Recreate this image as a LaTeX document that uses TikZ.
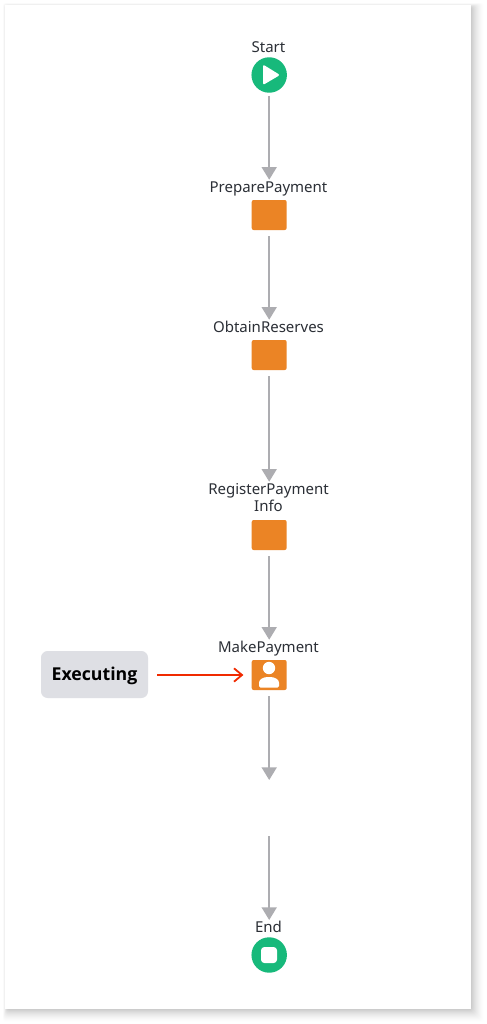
\documentclass[tikz,border=0pt]{standalone}
\usepackage{fontspec}
\setmainfont{Noto Sans}
\newfontfamily\tagfont{Open Sans}
\usetikzlibrary{arrows.meta}
\definecolor{flowgreen}{HTML}{17B97B}
\definecolor{floworange}{HTML}{EB8425}
\definecolor{flowgrey}{HTML}{ADADB1}
\definecolor{tagfill}{HTML}{DEDFE4}
\definecolor{flowred}{HTML}{F02A00}
\definecolor{labeltext}{HTML}{2B2F36}
\tikzset{
  x=0.75pt,y=-0.75pt,
  eventnode/.style={circle,fill=flowgreen,minimum size=26.6pt,inner sep=0pt},
  tasknode/.style={rectangle,rounded corners=1.5pt,fill=floworange,minimum width=26.25pt,minimum height=22.5pt,inner sep=0pt},
  steplabel/.style={text=labeltext,font=\fontsize{11.25pt}{12.8pt}\selectfont,align=center,inner sep=0pt},
  baselabel/.style={steplabel,anchor=base},
  flow/.style={draw=flowgrey,line width=1.2pt,-{Triangle[width=11.25pt,length=9.5pt,color=flowgrey]}},
  tagnode/.style={rectangle,rounded corners=5pt,fill=tagfill,minimum width=80.25pt,minimum height=35.25pt,inner sep=0pt},
  tagtext/.style={anchor=base,inner sep=0pt,font=\tagfont\fontsize{13.3pt}{16pt}\selectfont\bfseries},
  pointer/.style={draw=flowred,line width=1.35pt,-{Straight Barb[length=6pt,width=10pt,line width=1.35pt]}},
  glyph/.style={fill=white,draw=none}
}
\begin{document}
\begin{tikzpicture}
\useasboundingbox (0,0) rectangle (486,1024);
\fill[white] (0,0) rectangle (486,1024);
% card shadow
\foreach \k in {1,...,13}{
  \pgfmathsetmacro{\o}{0.028-0.0018*\k}
  \pgfmathsetmacro{\l}{7-\k/3}
  \fill[black,opacity=\o,rounded corners=2pt] (\l,\l) rectangle (471+\k,1009+\k);
}
\fill[white] (5,5) rectangle (471,1009);
% nodes
\node[eventnode] (start) at (269.2,75) {};
\node[tasknode] (prep) at (269.2,215) {};
\node[tasknode] (obtain) at (269.2,355) {};
\node[tasknode] (register) at (269.2,535) {};
\node[tasknode] (make) at (269.2,675) {};
\node[eventnode] (end) at (269.2,955) {};
\node[tagnode] (exec) at (94.5,674.5) {};
\node[tagtext] (exectext) at (94.5,680.5) {Executing};
\coordinate (gapa) at (269.2,780);
\coordinate (gapb) at (269.2,836);
% labels
\node[baselabel] (lstart) at (268.5,53) {Start};
\node[baselabel] (lprep) at (268.5,192) {PreparePayment};
\node[baselabel] (lobtain) at (268.5,332) {ObtainReserves};
\node[steplabel] (lregister) at (268.5,497.5) {RegisterPayment\\Info};
\node[baselabel] (lmake) at (268.5,652) {MakePayment};
\node[baselabel] (lend) at (268.5,932) {End};
% glyphs
\fill[glyph,rounded corners=1.5pt] (263,64.5) -- (280,75) -- (263,85) -- cycle;
\fill[glyph,rounded corners=2.5pt] (261,947) rectangle (277,963);
\fill[glyph] (269,668) circle[radius=6.2];
\fill[glyph,rounded corners=1pt] (259,687.5) -- (259,684) .. controls (259,679) and (264,677) .. (269,677) .. controls (274,677) and (279,679) .. (279,684) -- (279,687.5) -- cycle;
% connectors
\draw[flow,shorten <=2.25pt,shorten >=15pt] (start.south) -- (prep.north);
\draw[flow,shorten <=4.5pt,shorten >=15pt] (prep.south) -- (obtain.north);
\draw[flow,shorten <=4.5pt,shorten >=28.5pt] (obtain.south) -- (register.north);
\draw[flow,shorten <=4.5pt,shorten >=15pt] (register.south) -- (make.north);
\draw[flow,shorten <=4.5pt] (make.south) -- (gapa);
\draw[flow,shorten >=12.75pt] (gapb) -- (end.north);
\draw[pointer,shorten <=6.75pt,shorten >=6pt] (exec.east |- make) -- (make.west);
\end{tikzpicture}
\end{document}
